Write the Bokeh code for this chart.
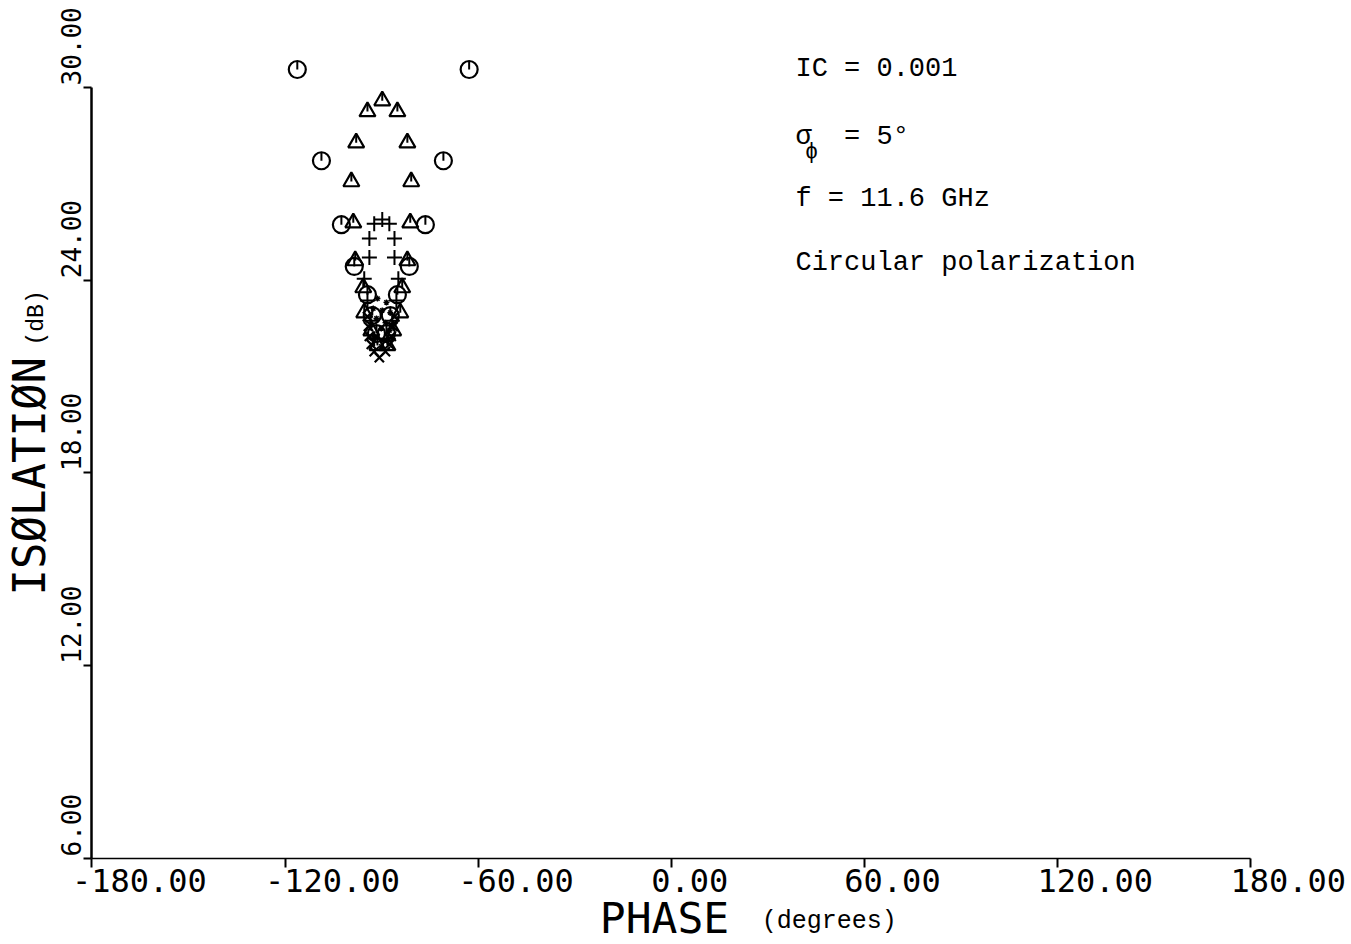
from bokeh.plotting import figure
from bokeh.models import Label, FixedTicker, Range1d, LinearAxis
from bokeh.embed import file_html
from bokeh.resources import INLINE

# ---------------- data ----------------
x_ticks = [-180, -120, -60, 0, 60, 120, 180]
x_tick_labels = ["-180.00", "-120.00", "-60.00", "0.00", "60.00", "120.00", "180.00"]
y_ticks = [6, 12, 18, 24, 30]
y_tick_labels = ["6.00", "12.00", "18.00", "24.00", "30.00"]

# circle-with-tick series
circ_phase = [-116.2, -62.8, -108.7, -70.8, -102.5, -76.4, -98.5, -81.4,
              -94.4, -85.1, -92.9, -87.3, -91.6, -88.5]
circ_iso = [30.56, 30.56, 27.72, 27.72, 25.73, 25.73, 24.43, 24.43,
            23.55, 23.55, 22.90, 22.90, 22.34, 22.34]

# triangle series
tri_phase = [-89.8, -94.4, -85.1, -97.9, -82.0, -99.4, -80.8, -98.8, -81.1,
             -98.2, -82.0, -95.7, -83.6, -95.4, -84.2, -93.2, -86.4, -91.3, -88.2]
tri_iso = [29.59, 29.25, 29.25, 28.28, 28.28, 27.07, 27.07, 25.79, 25.79,
           24.61, 24.61, 23.77, 23.77, 22.99, 22.99, 22.43, 22.43, 21.97, 21.97]

# plus series
plus_phase = [-89.8, -92.3, -87.6, -93.8, -86.0, -93.8, -86.0, -95.4, -84.8,
              -94.4, -85.4, -93.5, -86.7, -92.3, -87.9]
plus_iso = [25.89, 25.76, 25.76, 25.30, 25.30, 24.71, 24.71, 24.05, 24.05,
            23.37, 23.37, 22.74, 22.74, 22.18, 22.18]

# x series (bottom chevrons)
x_phase = [-90.7, -92.3, -88.8, -93.2, -87.6, -93.8, -87.0, -94.1, -86.4, -94.4, -86.0]
x_iso = [21.59, 21.78, 21.78, 22.00, 22.00, 22.25, 22.25, 22.56, 22.56, 22.87, 22.87]

# small dense inner points
dot_phase = [-91.3, -88.5, -92.6, -89.8, -87.3, -91.6, -88.8, -90.1, -87.6, -92.3, -89.5, -90.1]
dot_iso = [23.43, 23.31, 23.12, 23.06, 22.99, 22.81, 22.68, 22.50, 22.43, 22.25, 22.12, 21.94]

# ---------------- figure ----------------
# the frame fills the whole canvas; axes sit at fixed data locations
p = figure(width=1351, height=944, output_backend="svg", toolbar_location=None,
           x_range=Range1d(-208.43, 211.39), y_range=Range1d(3.323, 32.708),
           x_axis_location=None, y_axis_location=None, min_border=0)
p.outline_line_color = None
p.grid.visible = False
p.background_fill_color = "white"
p.border_fill_color = "white"

ink = "black"
xaxis = LinearAxis(fixed_location=6, ticker=FixedTicker(ticks=x_ticks), bounds=(-180, 180))
yaxis = LinearAxis(fixed_location=-180, ticker=FixedTicker(ticks=y_ticks), bounds=(6, 30))
for ax, lw, tl in ((xaxis, 1.6, 9), (yaxis, 2.5, 8)):
    ax.axis_line_color = ink
    ax.axis_line_width = lw
    ax.major_tick_line_color = ink
    ax.major_tick_line_width = 2
    ax.major_tick_in = tl
    ax.major_tick_out = 0
    ax.minor_tick_line_color = None
    ax.major_label_text_color = None
    ax.major_label_standoff = 0
p.add_layout(xaxis, "above")
p.add_layout(yaxis, "right")

# circles with tick
p.scatter(circ_phase, circ_iso, marker="circle", size=17, fill_color=None,
          line_color=ink, line_width=2.2)
p.ray(circ_phase, circ_iso, length=8, length_units="screen", angle=90,
      angle_units="deg", line_color=ink, line_width=2)
# triangles with tick
p.scatter(tri_phase, tri_iso, marker="triangle", size=16, fill_color=None,
          line_color=ink, line_width=2.2)
p.ray(tri_phase, tri_iso, length=8, length_units="screen", angle=90,
      angle_units="deg", line_color=ink, line_width=2)
# plus
p.scatter(plus_phase, plus_iso, marker="cross", size=15, line_color=ink, line_width=2)
# x
p.scatter(x_phase, x_iso, marker="x", size=13, line_color=ink, line_width=2.2)
# inner dots
p.scatter(dot_phase, dot_iso, marker="asterisk", size=6, line_color=ink, line_width=1.4)

# ---------------- tick labels ----------------
tick_font = "DejaVu Sans Mono"
for v, t in zip(x_ticks, x_tick_labels):
    p.add_layout(Label(x=v, y=6, x_offset=-20, y_offset=-22, text=t,
                       text_align="left", text_baseline="alphabetic",
                       text_font=tick_font, text_font_size="32px", text_color=ink))
for v, t in zip(y_ticks, y_tick_labels):
    p.add_layout(Label(x=-180, y=v, x_offset=-20.5, y_offset=2, text=t, angle=90,
                       angle_units="deg", text_align="left", text_baseline="alphabetic",
                       text_font=tick_font, text_font_size="26px", text_color=ink))

# ---------------- axis titles ----------------
p.add_layout(Label(x=-180, y=6, x_offset=-62.5, y_offset=263, text="ISØLATIØN", angle=90,
                   angle_units="deg", text_align="left", text_baseline="alphabetic",
                   text_font=tick_font, text_font_size="44px", text_color=ink))
p.add_layout(Label(x=-180, y=6, x_offset=-54.5, y_offset=513, text="(dB)", angle=90,
                   angle_units="deg", text_align="left", text_baseline="alphabetic",
                   text_font="Liberation Mono", text_font_size="23px", text_color=ink))
p.add_layout(Label(x=0, y=6, x_offset=-71.5, y_offset=-59.5, text="PHASE",
                   text_align="left", text_baseline="alphabetic",
                   text_font=tick_font, text_font_size="43px", text_color=ink))
p.add_layout(Label(x=0, y=6, x_offset=90.5, y_offset=-63, text="(degrees)",
                   text_align="left", text_baseline="alphabetic",
                   text_font="Liberation Mono", text_font_size="25px", text_color=ink))

# ---------------- annotations ----------------
note_font = "Liberation Mono"
notes = [("IC = 0.001", 30.59), ("σ\u00a0\u00a0= 5°", 28.45), ("f = 11.6 GHz", 26.54),
         ("Circular polarization", 24.55)]
for t, yv in notes:
    p.add_layout(Label(x=38.6, y=yv, text=t, text_align="left", text_baseline="alphabetic",
                       text_font=note_font, text_font_size="27px", text_color=ink))
p.add_layout(Label(x=41.6, y=27.98, text="ϕ", text_align="left", text_baseline="alphabetic",
                   text_font=note_font, text_font_size="22px", text_color=ink))

open("out.html", "w").write(file_html(p, INLINE))
